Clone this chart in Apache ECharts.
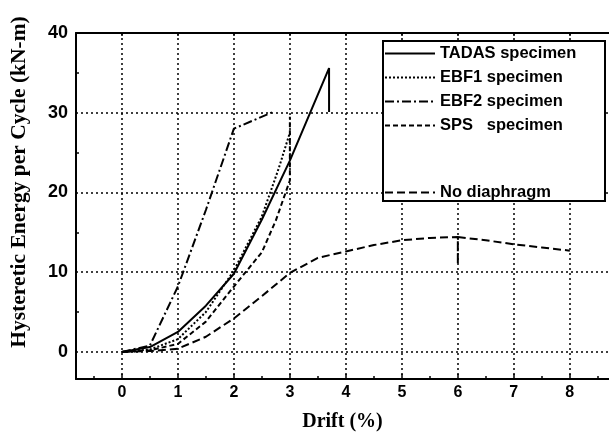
<!DOCTYPE html>
<html><head><meta charset="utf-8">
<script src="https://cdn.jsdelivr.net/npm/echarts@6/dist/echarts.min.js"></script>
<style>html,body{margin:0;padding:0;background:#fff}#c{width:609px;height:441px}</style>
</head><body><div id="c"></div>
<script>
// axis ticks
const xTicks = [0, 1, 2, 3, 4, 5, 6, 7, 8];
const xMinorTicks = [-0.5, 0.5, 1.5, 2.5, 3.5, 4.5, 5.5, 6.5, 7.5, 8.5];
const yTicks = [0, 10, 20, 30, 40];
const yGridLines = [0, 10, 20, 30];
const yMinorTicks = [5, 15, 25, 35];

// series names
const names = ['TADAS specimen', 'EBF1 specimen', 'EBF2 specimen', 'SPS   specimen', 'No diaphragm'];

// data (drift %, energy kN-m)
const tadasX = [0, 0.5, 1, 1.5, 2, 2.5, 3, 3.7, 3.7];
const tadasY = [0, 0.6, 2.5, 5.8, 9.8, 16.6, 24, 35.6, 30.1];
const ebf1X = [0, 0.5, 1, 1.5, 2, 2.5, 2.8, 3];
const ebf1Y = [0, 0.3, 1.6, 5, 10.2, 17, 23, 27.5];
const ebf2X = [0, 0.5, 1, 1.5, 2, 2.7];
const ebf2Y = [0, 0.8, 8.2, 17.8, 28, 30.1];
const spsX = [0, 0.5, 1, 1.5, 2, 2.5, 2.75, 3, 3];
const spsY = [0, 0.2, 1.0, 3.8, 8.2, 12.5, 16.5, 21.5, 29.5];
const noDiaX = [0, 0.5, 1, 1.5, 2, 2.5, 3, 3.5, 4, 4.5, 5, 5.5, 6, 6, 6, 6.5, 7, 7.5, 8];
const noDiaY = [0, 0.1, 0.4, 1.9, 4.2, 7, 9.9, 11.8, 12.6, 13.4, 14, 14.3, 14.4, 11, 14.4, 14, 13.5, 13.1, 12.7];

const pairs = (xs, ys) => xs.map((x, i) => [x, ys[i]]);
const X_MIN = -0.82, X_MAX = 8.7, Y_MIN = -3.4, Y_MAX = 40;
const sans = '"Liberation Sans", Arial, sans-serif';
const serif = '"Liberation Serif", "Times New Roman", serif';

function line(name, xs, ys, type) {
  return {
    name, type: 'line', data: pairs(xs, ys), symbol: 'none', xAxisIndex: 0, yAxisIndex: 0,
    lineStyle: { color: '#000', width: 2, type }, itemStyle: { color: '#000' },
    animation: false, z: 5
  };
}

const legendText = { fontFamily: sans, fontWeight: 'bold', fontSize: 16.5, lineHeight: 16, color: '#000' };

const chart = echarts.init(document.getElementById('c'), null, { renderer: 'canvas' });
chart.setOption({
  backgroundColor: '#fff',
  animation: false,
  grid: { left: 76, top: 33, right: 0, bottom: 62, containLabel: false },
  xAxis: [
    {
      type: 'value', min: X_MIN, max: X_MAX, position: 'bottom',
      name: 'Drift (%)', nameLocation: 'middle', nameGap: 33,
      nameTextStyle: { fontFamily: serif, fontWeight: 'bold', fontSize: 20, color: '#000' },
      axisLine: { show: true, onZero: false, lineStyle: { color: '#000', width: 2 } },
      axisTick: { show: true, inside: true, length: 5, customValues: xTicks, lineStyle: { color: '#000', width: 1.5 } },
      axisLabel: { customValues: xTicks, fontFamily: sans, fontWeight: 'bold', fontSize: 16, color: '#000', margin: 6 },
      splitLine: { show: true, lineStyle: { color: '#000', width: 1.5, type: [2, 3] } }
    },
    {
      type: 'value', min: X_MIN, max: X_MAX, position: 'bottom', gridIndex: 0,
      axisLine: { show: false, onZero: false },
      axisTick: { show: true, inside: true, length: 3, customValues: xMinorTicks, lineStyle: { color: '#000', width: 1.5 } },
      axisLabel: { show: false }, splitLine: { show: false }
    },
    {
      type: 'value', min: X_MIN, max: X_MAX, position: 'top',
      axisLine: { show: true, onZero: false, lineStyle: { color: '#000', width: 2 } },
      axisTick: { show: true, inside: true, length: 3, customValues: xTicks, lineStyle: { color: '#000', width: 1.5 } },
      axisLabel: { show: false }, splitLine: { show: false }
    }
  ],
  yAxis: [
    {
      type: 'value', min: Y_MIN, max: Y_MAX, position: 'left',
      name: 'Hysteretic Energy per Cycle (kN-m)', nameLocation: 'middle', nameGap: 46, nameRotate: 90,
      nameTextStyle: { fontFamily: serif, fontWeight: 'bold', fontSize: 21.5, color: '#000', padding: [0, 0, 0, 48] },
      axisLine: { show: true, onZero: false, lineStyle: { color: '#000', width: 2 } },
      axisTick: { show: false, customValues: yGridLines },
      axisLabel: { customValues: yTicks, fontFamily: sans, fontWeight: 'bold', fontSize: 18, color: '#000', margin: 8 },
      splitLine: { show: true, lineStyle: { color: '#000', width: 1.5, type: [2, 3] } }
    },
    {
      type: 'value', min: Y_MIN, max: Y_MAX, position: 'left', offset: 0,
      axisLine: { show: false, onZero: false },
      axisTick: { show: true, inside: true, length: 3, customValues: yMinorTicks, lineStyle: { color: '#000', width: 1.5 } },
      axisLabel: { show: false }, splitLine: { show: false }
    }
  ],
  legend: [
    {
      data: names.slice(0, 4), orient: 'vertical', left: 384, top: 45, padding: 0, z: 120,
      itemWidth: 50, itemHeight: 14, itemGap: 7, selectedMode: false,
      itemStyle: { opacity: 0 }, textStyle: legendText
    },
    {
      data: names.slice(4), orient: 'vertical', left: 384, top: 184, padding: 0, z: 120,
      itemWidth: 50, itemHeight: 14, itemGap: 7, selectedMode: false,
      itemStyle: { opacity: 0 }, textStyle: legendText
    }
  ],
  graphic: [
    { type: 'rect', left: 382, top: 40, shape: { width: 222, height: 160 }, style: { fill: '#fff', stroke: '#000', lineWidth: 2 }, z: 100 }
  ],
  series: [
    line(names[0], tadasX, tadasY, 'solid'),
    line(names[1], ebf1X, ebf1Y, [2, 2]),
    line(names[2], ebf2X, ebf2Y, [9, 3, 2, 3]),
    line(names[3], spsX, spsY, [5, 3]),
    line(names[4], noDiaX, noDiaY, [8, 4])
  ]
});
</script>
</body></html>
